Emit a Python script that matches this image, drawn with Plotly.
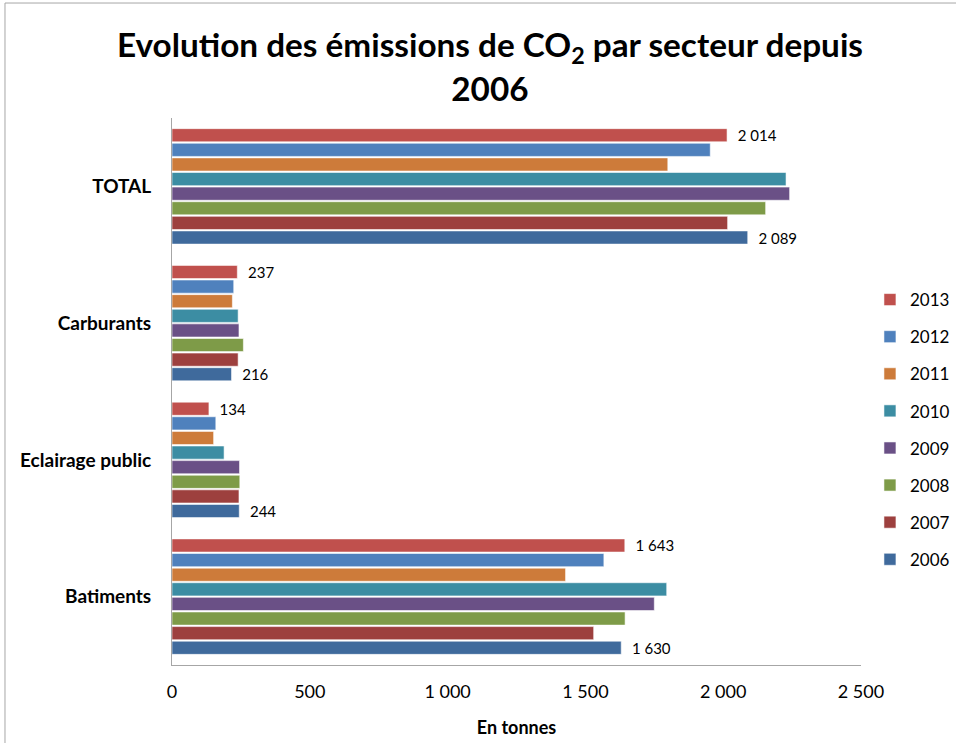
import plotly.graph_objects as go

categories = ["Batiments", "Eclairage public", "Carburants", "TOTAL"]
years = ["2006", "2007", "2008", "2009", "2010", "2011", "2012", "2013"]

v2006 = [1630, 244, 216, 2089]
v2007 = [1530, 243, 240, 2016]
v2008 = [1644, 246, 259, 2154]
v2009 = [1750, 245, 243, 2241]
v2010 = [1795, 189, 240, 2228]
v2011 = [1428, 151, 219, 1799]
v2012 = [1567, 159, 224, 1953]
v2013 = [1643, 134, 237, 2014]

series = [v2006, v2007, v2008, v2009, v2010, v2011, v2012, v2013]
colors = ["#3F6A9C", "#9D403E", "#7E9B48", "#6A5086", "#3C8DA3", "#CD7B3A", "#4F81BD", "#C0504D"]
labelled = {"2006", "2013"}

FONT = "Lato"

fig = go.Figure()
for i, (yr, vals, col) in enumerate(zip(years, series, colors)):
    show = yr in labelled
    if show:
        kw = dict(texttemplate="  %{x:,}", textposition="outside",
                  textfont=dict(family=FONT, size=15, color="#000000"),
                  constraintext="none", cliponaxis=False)
    else:
        kw = dict(textposition="none")
    fig.add_trace(go.Bar(
        name=yr,
        y=categories,
        x=vals,
        orientation="h",
        marker=dict(color=col, line=dict(color="rgba(255,255,255,0.55)", width=1)),
        legendgroup=yr,
        legendrank=len(years) - i,
        **kw,
    ))

fig.update_layout(
    width=956, height=743,
    paper_bgcolor="white", plot_bgcolor="white",
    separators=", ",
    barmode="group",
    bargap=0.145,
    bargroupgap=0.1,
    margin=dict(l=172, r=95, t=118, b=78, autoexpand=False),
    font=dict(family=FONT, color="#000000"),
    title=dict(
        text="<b>Evolution des émissions de CO<sub>2</sub> par secteur depuis<br>2006</b>",
        x=0.5125, xanchor="center", y=0.923, yanchor="top",
        font=dict(family=FONT, size=33.3, color="#000000"),
    ),
    xaxis=dict(
        range=[0, 2500],
        tickvals=[0, 500, 1000, 1500, 2000, 2500],
        tickformat=",",
        showgrid=False, zeroline=False,
        showline=True, linecolor="#A6A6A6", linewidth=1,
        ticks="", ticklabelstandoff=10,
        tickfont=dict(family=FONT, size=18),
        automargin=False,
        title=dict(text="<b>En tonnes</b>", font=dict(family=FONT, size=18), standoff=20),
    ),
    yaxis=dict(
        categoryorder="array", categoryarray=categories,
        showgrid=False, zeroline=False,
        showline=True, linecolor="#A6A6A6", linewidth=1,
        ticks="", ticklabelstandoff=16,
        automargin=False,
        tickfont=dict(family=FONT, size=19),
        tickprefix="<b>", ticksuffix="</b>",
    ),
    legend=dict(
        traceorder="grouped",
        tracegroupgap=12,
        x=1.013, xanchor="left", y=0.4305, yanchor="middle",
        font=dict(family=FONT, size=17),
        bgcolor="rgba(0,0,0,0)",
        itemwidth=30,
    ),
    shapes=[dict(
        type="rect", xref="paper", yref="paper",
        x0=-0.2424, x1=2, y0=-2, y1=1.2102,
        line=dict(color="#A6A6A6", width=1), fillcolor="rgba(0,0,0,0)", layer="below",
    )],
)

fig.write_html("out.html", config={"displayModeBar": False},
               post_script="document.body.style.margin='0px';")
